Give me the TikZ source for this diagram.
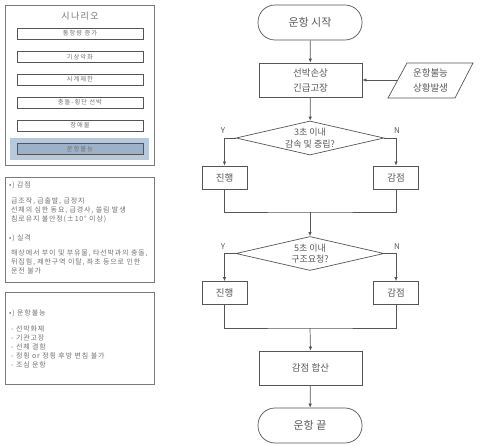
\documentclass[tikz,border=0pt]{standalone}
\usepackage{fontspec}
\setmainfont{Noto Sans CJK KR}
\newfontfamily\spaced[LetterSpace=12]{Noto Sans CJK KR}
\newfontfamily\spacedw[LetterSpace=15]{Noto Sans CJK KR}
\usetikzlibrary{arrows.meta,shapes.geometric}
\definecolor{ln}{HTML}{555555}
\definecolor{tx}{HTML}{585858}
\definecolor{ptx}{HTML}{707070}
\definecolor{pbd}{HTML}{7A7A7A}
\definecolor{band}{HTML}{B8C9DA}
\definecolor{bandin}{HTML}{9DB2C8}
\tikzset{
  panel/.style={draw=pbd,line width=0.9pt},
  sbox/.style={draw=ln,line width=0.7pt,minimum width=126pt,minimum height=11pt,inner sep=0pt,font=\spacedw\fontsize{6.3}{7}\selectfont,text=ptx},
  ptext/.style={anchor=west,inner sep=0pt,font=\spaced\fontsize{7}{9}\selectfont,text=ptx,align=left},
  term/.style={draw=ln,line width=0.7pt,rounded corners=17pt,minimum width=104pt,minimum height=35pt,inner sep=0pt,font=\fontsize{11}{13}\selectfont,text=tx},
  proc/.style={draw=ln,line width=0.7pt,minimum width=103pt,minimum height=34pt,inner sep=0pt,align=center,font=\fontsize{9.5}{15}\selectfont,text=tx},
  small/.style={draw=ln,line width=0.7pt,minimum width=45pt,minimum height=23pt,inner sep=0pt,font=\fontsize{9.5}{11}\selectfont,text=tx},
  dec/.style={draw=ln,line width=0.7pt,diamond,aspect=4.35,minimum width=148pt,minimum height=34pt,inner sep=0pt,align=center,font=\fontsize{9}{11.5}\selectfont,text=tx},
  lab/.style={inner sep=0pt,font=\fontsize{8}{9}\selectfont,text=tx},
  conn/.style={draw=ln,line width=0.7pt},
  arr/.style={conn,-{Latex[length=4pt,width=3.5pt]}}
}
\begin{document}
\begin{tikzpicture}[x=1pt,y=-1pt]
\useasboundingbox (0,0) rectangle (482,446);
% ---------- panel 1
\draw[panel] (5,5) rectangle (154,165);
\node[inner sep=0pt,font=\spacedw\fontsize{9}{10}\selectfont,text=ptx] (ttl) at (80,16) {시나리오};
\fill[band] (10,138) rectangle (149,160);
\node[sbox] (s1) at (80,33.5) {통항량 증가};
\node[sbox] (s2) at (80,57) {기상악화};
\node[sbox] (s3) at (80,79.5) {시계제한};
\node[sbox] (s4) at (80,102.5) {충돌-횡단 선박};
\node[sbox] (s5) at (80,125.5) {장애물};
\node[sbox,fill=bandin] (s6) at (80,149) {운항불능};
% ---------- panel 2
\draw[panel] (5,177) rectangle (154,282);
\node[ptext] (p1) at (9,185) {•) 감점};
\node[ptext] (p2) at (11,210) {급조작, 급출발, 급정지\\선체의 심한 동요, 급경사, 쏠림 발생\\침로유지 불안정(±10° 이상)};
\node[ptext] (p3) at (9,238) {•) 실격};
\node[ptext] (p4) at (11,262) {해상에서 부이 및 부유물, 타선박과의 충돌,\\뒤집힘, 제한구역 이탈, 좌초 등으로 인한\\운전 불가};
% ---------- panel 3
\draw[panel] (5,292) rectangle (154,384);
\node[ptext] (q1) at (9,313) {•) 운항불능};
\node[ptext] (q2) at (11,346.5) {- 선박화재\\- 기관고장\\- 선체 결함\\- 정횡 or 정횡 후방 변침 불가\\- 조심 운항};
% ---------- flowchart
\node[term] (start) at (310,22.5) {운항 시작};
\node[proc] (dmg) at (310.5,80) {선박손상\\긴급고장};
\draw[conn] (407,63) -- (473,63) -- (455,98) -- (388,98) -- cycle;
\node[inner sep=0pt,align=center,font=\fontsize{9.5}{15}\selectfont,text=tx] (ev) at (430.5,80.5) {운항불능\\상황발생};
\coordinate (evL) at (397.5,80);
\node[dec] (d1) at (310,138) {3초 이내\\감속 및 중립?};
\node[small] (j1) at (224.5,177.5) {진행};
\node[small] (k1) at (396,177.5) {감점};
\coordinate (m1) at (310,212);
\node[dec] (d2) at (310,253.5) {5초 이내\\구조요청?};
\node[small] (j2) at (224.5,293) {진행};
\node[small] (k2) at (396,293) {감점};
\coordinate (m2) at (310,328);
\node[proc] (sum) at (310.5,368) {감점 합산};
\node[term] (end) at (310,425.5) {운항 끝};
\node[lab] (y1) at (223,131) {Y};
\node[lab] (n1) at (397,131) {N};
\node[lab] (y2) at (223,247) {Y};
\node[lab] (n2) at (397,247) {N};
% connectors
\draw[arr] (start) -- (dmg);
\draw[arr] (evL) -- (dmg.east);
\draw[arr] (dmg) -- (d1);
\draw[arr] (d1.west) -| (j1.north);
\draw[arr] (d1.east) -| (k1.north);
\draw[conn] (j1.south) |- (m1) -| (k1.south);
\draw[arr] (m1) -- (d2.north);
\draw[arr] (d2.west) -| (j2.north);
\draw[arr] (d2.east) -| (k2.north);
\draw[conn] (j2.south) |- (m2) -| (k2.south);
\draw[arr] (m2) -- (sum.north);
\draw[arr] (sum) -- (end);
\end{tikzpicture}
\end{document}
